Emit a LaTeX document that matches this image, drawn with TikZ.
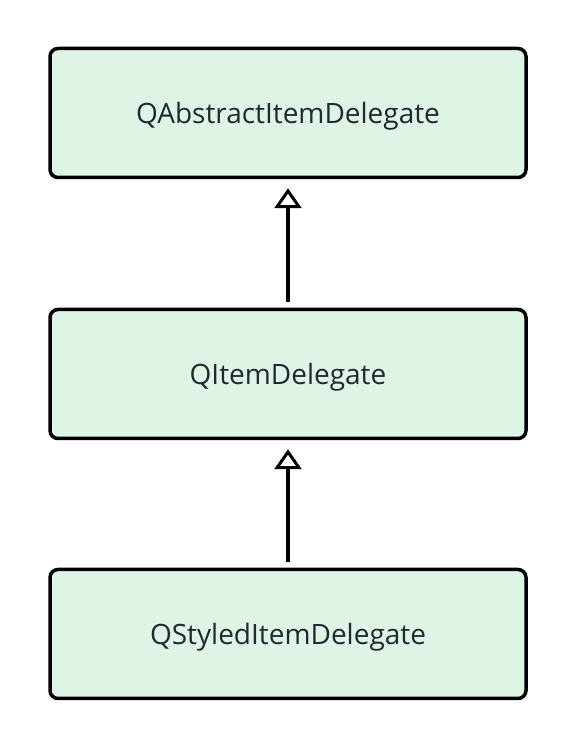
\documentclass[tikz,border=0pt]{standalone}
\usepackage{fontspec}
\setmainfont{Open Sans}
\usetikzlibrary{arrows.meta}
\definecolor{boxfill}{HTML}{DEF5E5}
\definecolor{txt}{HTML}{222831}
\tikzset{
  classbox/.style={draw=black, line width=3.5pt, fill=boxfill, rounded corners=8pt,
    minimum width=476pt, minimum height=129pt, inner sep=0pt, text=txt,
    font=\fontsize{28}{34}\selectfont, text depth=0pt},
  inherit/.style={draw=black, line width=3.5pt, -{Triangle[open, length=20pt, width=27pt, line width=3pt]}, shorten >=1pt}
}
\begin{document}
\begin{tikzpicture}[x=1pt,y=1pt]
\useasboundingbox (0,0) rectangle (576,748);
\node[classbox] (a) at (288,635) {QAbstractItemDelegate};
\node[classbox] (b) at (288,374) {QItemDelegate};
\node[classbox] (c) at (288,114) {QStyledItemDelegate};
\coordinate (bt) at (288,446);
\coordinate (ct) at (288,186);
\draw[inherit] (bt) -- ([yshift=-8pt]a.south);
\draw[inherit] (ct) -- ([yshift=-8pt]b.south);
\end{tikzpicture}
\end{document}
